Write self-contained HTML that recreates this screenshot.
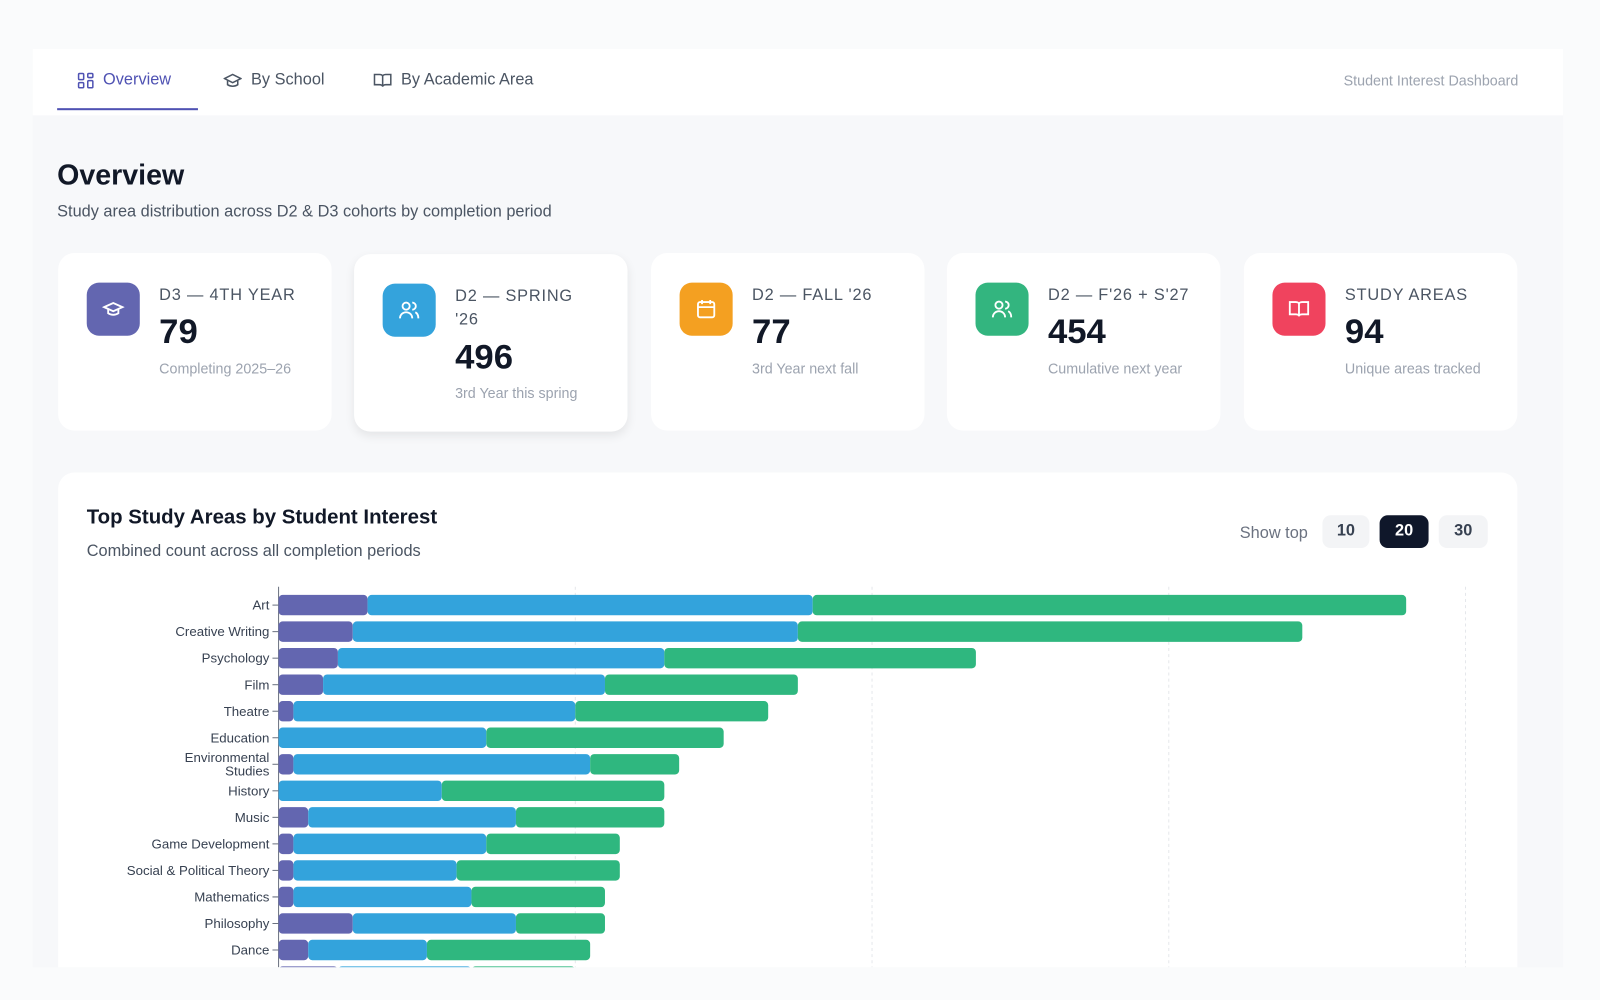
<!DOCTYPE html>
<html><head><meta charset="utf-8">
<style>
*{box-sizing:border-box;margin:0;padding:0}
html,body{width:1600px;height:1000px;overflow:hidden;background:#fafbfc;font-family:"Liberation Sans",sans-serif}
#wrap{position:absolute;left:0;top:0;width:1568px;height:980px;transform:scale(1.020408);transform-origin:0 0;overflow:hidden}
#panel{position:absolute;left:32px;top:48px;width:1500px;height:900px;background:#f7f8fa;overflow:hidden}
#tabs{position:absolute;left:0;top:0;width:1500px;height:65px;background:#fff}
.tab{position:absolute;top:21px;font-size:16px;color:#4b5563;display:flex;align-items:center;gap:9px;height:20px;font-weight:500}
.tab.active{color:#4f52b3}
#underline{position:absolute;left:24px;top:58px;width:138px;height:2px;background:#4f52b3}
#brand{position:absolute;right:44px;top:23px;font-size:14px;color:#9ca3af}
h1{position:absolute;left:24px;top:108px;font-size:28px;font-weight:bold;color:#111827}
#sub{position:absolute;left:24px;top:151px;font-size:16px;color:#4b5563}
.card{position:absolute;top:200px;width:268px;height:174px;background:#fff;border-radius:16px}
.card.hover{box-shadow:0 4px 10px rgba(0,0,0,.08);top:201px}
.ic{position:absolute;left:28px;top:29px;width:52px;height:52px;border-radius:12px;display:flex;align-items:center;justify-content:center}
.lab{position:absolute;left:99px;top:30px;font-size:16px;color:#4b5563;letter-spacing:.8px;line-height:23px;width:160px}
.val{position:absolute;left:99px;font-size:34px;font-weight:bold;color:#111827}
.sm{position:absolute;left:99px;font-size:14px;color:#9ca3af}
#chart{position:absolute;left:25px;top:415px;width:1430px;height:485px;background:#fff;border-radius:16px 16px 0 0;overflow:hidden}
#ctitle{position:absolute;left:28px;top:33px;font-size:20px;font-weight:bold;color:#111827}
#csub{position:absolute;left:28px;top:69px;font-size:16px;color:#4b5563}
#showtop{position:absolute;left:1158px;top:51px;font-size:16px;color:#6b7280}
.btn{position:absolute;top:42px;height:32px;border-radius:8px;background:#f3f4f6;color:#374151;font-size:16px;font-weight:bold;display:flex;align-items:center;justify-content:center}
.btn.on{background:#0f172a;color:#fff}
</style></head><body>
<div id="wrap">
<div id="panel">
 <div id="tabs">
  <div class="tab active" style="left:44px">
   <svg width="16" height="16" viewBox="0 0 16 16" fill="none" stroke="#4f52b3" stroke-width="1.5"><rect x="1" y="1" width="5" height="6" rx="1"/><rect x="10" y="1" width="5" height="4" rx="1"/><rect x="1" y="10" width="5" height="5" rx="1"/><rect x="10" y="8" width="5" height="7" rx="1"/></svg>Overview</div>
  <div class="tab" style="left:187px">
   <svg width="18" height="16" viewBox="0 0 18 16" fill="none" stroke="#4b5563" stroke-width="1.5"><path d="M1 6l8-4 8 4-8 4z"/><path d="M4 8v4c3 2 7 2 10 0V8"/></svg>By School</div>
  <div class="tab" style="left:334px">
   <svg width="18" height="16" viewBox="0 0 18 16" fill="none" stroke="#4b5563" stroke-width="1.5"><path d="M1 2h5c2 0 3 1 3 2v10c0-1-1-2-3-2H1zM17 2h-5c-2 0-3 1-3 2v10c0-1 1-2 3-2h5z"/></svg>By Academic Area</div>
  <div id="underline"></div>
  <div id="brand">Student Interest Dashboard</div>
 </div>
 <h1>Overview</h1>
 <div id="sub">Study area distribution across D2 &amp; D3 cohorts by completion period</div>

 <div class="card" style="left:25px">
  <div class="ic" style="background:#6366b0"><svg width="22" height="22" viewBox="0 0 22 22" fill="none" stroke="#fff" stroke-width="1.8"><path d="M2 9l9-4 9 4-9 4z"/><path d="M6 11v4c3 2 7 2 10 0v-4"/></svg></div>
  <div class="lab">D3 — 4TH YEAR</div><div class="val" style="top:58px">79</div><div class="sm" style="top:105px">Completing 2025–26</div>
 </div>
 <div class="card hover" style="left:315px">
  <div class="ic" style="background:#34a3dc"><svg width="22" height="22" viewBox="0 0 22 22" fill="none" stroke="#fff" stroke-width="1.8"><circle cx="8" cy="7" r="3.5"/><path d="M2 19c0-4 3-6 6-6s6 2 6 6"/><path d="M14 3.5a3.5 3.5 0 010 7M17 13c2 1 3 3 3 6"/></svg></div>
  <div class="lab">D2 — SPRING<br>'26</div><div class="val" style="top:82px">496</div><div class="sm" style="top:128px">3rd Year this spring</div>
 </div>
 <div class="card" style="left:606px">
  <div class="ic" style="background:#f4a021"><svg width="22" height="22" viewBox="0 0 22 22" fill="none" stroke="#fff" stroke-width="1.8"><rect x="3" y="4" width="16" height="15" rx="2"/><path d="M3 9h16M7 2v4M15 2v4"/></svg></div>
  <div class="lab">D2 — FALL '26</div><div class="val" style="top:58px">77</div><div class="sm" style="top:105px">3rd Year next fall</div>
 </div>
 <div class="card" style="left:896px">
  <div class="ic" style="background:#33b57f"><svg width="22" height="22" viewBox="0 0 22 22" fill="none" stroke="#fff" stroke-width="1.8"><circle cx="8" cy="7" r="3.5"/><path d="M2 19c0-4 3-6 6-6s6 2 6 6"/><path d="M14 3.5a3.5 3.5 0 010 7M17 13c2 1 3 3 3 6"/></svg></div>
  <div class="lab">D2 — F'26 + S'27</div><div class="val" style="top:58px">454</div><div class="sm" style="top:105px">Cumulative next year</div>
 </div>
 <div class="card" style="left:1187px">
  <div class="ic" style="background:#f0435e"><svg width="22" height="22" viewBox="0 0 22 22" fill="none" stroke="#fff" stroke-width="1.8"><path d="M2 4h6c2 0 3 1 3 2v12c0-1-1-2-3-2H2zM20 4h-6c-2 0-3 1-3 2v12c0-1 1-2 3-2h6z"/></svg></div>
  <div class="lab">STUDY AREAS</div><div class="val" style="top:58px">94</div><div class="sm" style="top:105px">Unique areas tracked</div>
 </div>

 <div id="chart">
  <div id="ctitle">Top Study Areas by Student Interest</div>
  <div id="csub">Combined count across all completion periods</div>
  <div id="showtop">Show top</div>
  <div class="btn" style="left:1239px;width:46px">10</div>
  <div class="btn on" style="left:1295px;width:48px">20</div>
  <div class="btn" style="left:1353px;width:48px">30</div>
  <svg id="svg" width="1430" height="485" style="position:absolute;left:0;top:0"></svg>
 </div>
</div>
</div>
<script>
const categories=["Art","Creative Writing","Psychology","Film","Theatre","Education","Environmental Studies","History","Music","Game Development","Social & Political Theory","Mathematics","Philosophy","Dance","Economics"];
const d3Values=[6,5,4,3,1,0,1,0,2,1,1,1,5,2,4];
const springValues=[30,30,22,19,19,14,20,11,14,13,11,12,11,8,9];
const fallValues=[40,34,21,13,13,16,6,15,10,9,11,9,6,11,7];
const gridTicks=[0,20,40,60,80];
const colors=["#6366b0","#33a3dc","#2fb77f"];
const NS="http://www.w3.org/2000/svg";
const svg=document.getElementById('svg');
const x0=216, pxPerUnit=14.54, rowY0=130, rowH=26, barH=20;
function xs(v){return x0+v*pxPerUnit;}
function ys(i){return rowY0+i*rowH;}
gridTicks.forEach(t=>{if(t===0)return;
 const l=document.createElementNS(NS,'line');
 
 
 l.setAttribute('x1',xs(t));l.setAttribute('x2',xs(t));l.setAttribute('y1',112);l.setAttribute('y2',485);
 l.setAttribute('stroke','#e5e7eb');l.setAttribute('stroke-dasharray','3 3');svg.appendChild(l);});
const ax=document.createElementNS(NS,'line');


ax.setAttribute('x1',x0);ax.setAttribute('x2',x0);ax.setAttribute('y1',112);ax.setAttribute('y2',485);ax.setAttribute('stroke','#6b7280');svg.appendChild(ax);
categories.forEach((c,i)=>{
 const cy=ys(i);
 const series=[d3Values[i],springValues[i],fallValues[i]];
 let acc=0;
 series.forEach((v,k)=>{ if(v<=0)return;
  const r=document.createElementNS(NS,'rect');
  
  
  r.setAttribute('x',xs(acc));r.setAttribute('y',cy-barH/2);r.setAttribute('width',v*pxPerUnit);r.setAttribute('height',barH);
  r.setAttribute('rx',4);r.setAttribute('fill',colors[k]);svg.appendChild(r);acc+=v;});
 const tk=document.createElementNS(NS,'line');
 
 
 tk.setAttribute('x1',x0-6);tk.setAttribute('x2',x0);tk.setAttribute('y1',cy);tk.setAttribute('y2',cy);tk.setAttribute('stroke','#6b7280');svg.appendChild(tk);
 const t=document.createElementNS(NS,'text');
 
 
 t.setAttribute('x',x0-9);t.setAttribute('text-anchor','end');t.setAttribute('font-size','13');t.setAttribute('fill','#374151');
 t.setAttribute('font-family','Liberation Sans, sans-serif');
 if(c==="Environmental Studies"){
  ["Environmental","Studies"].forEach((w,j)=>{const s=document.createElementNS(NS,'tspan');s.setAttribute('x',x0-9);s.setAttribute('y',cy-2+j*13);s.textContent=w;t.appendChild(s);});
 } else {t.setAttribute('y',cy+4.5);t.textContent=c;}
 svg.appendChild(t);
});
</script>
</body></html>
